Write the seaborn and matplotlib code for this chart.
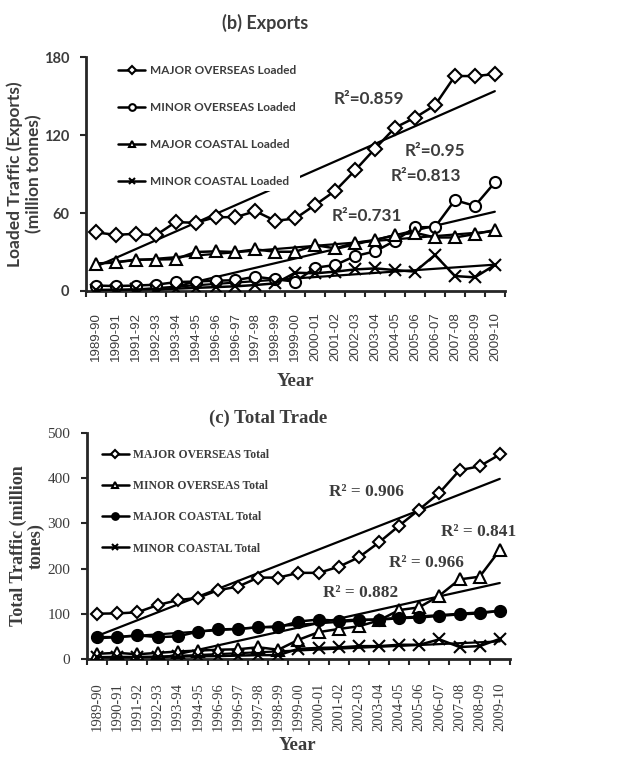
#Recreating (b) Exports and (c) Total Trade port traffic charts with linear trendlines

import numpy as np
import matplotlib.pyplot as plt
import seaborn as sns

years = ['1989-90', '1990-91', '1991-92', '1992-93', '1993-94', '1994-95', '1996-96',
         '1996-97', '1997-98', '1998-99', '1999-00', '2000-01', '2001-02', '2002-03',
         '2003-04', '2004-05', '2005-06', '2006-07', '2007-08', '2008-09', '2009-10']

#(b) Exports, million tonnes loaded
major_overseas_loaded = [45.1, 43.2, 44.0, 42.8, 53.0, 52.5, 56.8, 56.8, 61.4, 54.0, 55.8,
                         66.3, 77.1, 92.9, 109.6, 125.7, 133.4, 142.9, 165.4, 165.4, 166.9]
minor_overseas_loaded = [4.2, 3.8, 4.2, 4.8, 6.8, 7.3, 7.9, 8.3, 11.0, 9.0, 7.2,
                         17.9, 20.0, 26.9, 30.5, 38.7, 49.0, 49.2, 69.9, 65.5, 83.5]
major_coastal_loaded = [21.0, 22.0, 24.2, 24.2, 24.5, 30.0, 30.5, 30.0, 32.0, 30.2, 30.2,
                        35.3, 32.8, 37.1, 39.2, 43.0, 44.8, 41.2, 41.2, 43.8, 46.9]
minor_coastal_loaded = [0.8, 1.0, 1.2, 1.4, 1.8, 2.4, 3.0, 3.6, 4.6, 5.9, 14.1,
                        13.6, 14.9, 16.6, 17.4, 16.1, 14.9, 27.7, 11.5, 10.5, 20.0]

#(c) Total Trade, million tonnes
major_overseas_total = [100, 100.5, 103, 119, 130, 135, 152, 160, 180, 180, 190.5,
                        190.5, 204, 225, 258, 295, 331, 368, 418, 427, 453]
minor_overseas_total = [11, 13, 10, 13, 16, 18, 20, 21, 25.5, 20, 42,
                        59, 66, 72, 85, 108, 114, 140, 176, 182, 241]
major_coastal_total = [48, 48, 52, 48, 49.5, 60, 65, 66, 70, 70, 82.5,
                       87, 84, 87, 86.5, 90, 91.5, 95, 98.5, 100.5, 106.5]
minor_coastal_total = [3.5, 4, 4, 4.5, 5, 5.5, 6, 7, 8, 8, 22,
                       24, 25, 28, 28, 31, 31, 43, 26, 28, 44]

r2_exports = ['R²=0.859', 'R²=0.95', 'R²=0.813', 'R²=0.731']
r2_total = ['R² = 0.906', 'R² = 0.841', 'R² = 0.966', 'R² = 0.882']

sns.set_style("ticks")
SANS = 'Lato'
SERIF = 'Liberation Serif'
TXT = '#3c3c3c'

idx = np.arange(len(years))
fig = plt.figure(figsize=(6.31, 7.57), dpi=100)
ax1 = fig.add_axes([0.136, 0.6156, 0.664, 0.309])
ax2 = fig.add_axes([0.138, 0.1298, 0.670, 0.2978])


def series(ax, y, marker, face, ms, label):
    sns.lineplot(x=idx, y=y, ax=ax, color='black', lw=1.8, marker=marker, markersize=ms,
                 markerfacecolor=face, markeredgecolor='black', markeredgewidth=1.5,
                 label=label, zorder=3)
    #linear trendline, same as excel
    sns.regplot(x=idx, y=y, ax=ax, scatter=False, ci=None, truncate=True,
                line_kws=dict(color='black', lw=1.6, zorder=2))


series(ax1, major_overseas_loaded, 'D', 'white', 7, 'MAJOR OVERSEAS Loaded')
series(ax1, minor_overseas_loaded, 'o', 'white', 8, 'MINOR OVERSEAS Loaded')
series(ax1, major_coastal_loaded, '^', 'white', 8, 'MAJOR COASTAL Loaded')
series(ax1, minor_coastal_loaded, 'x', 'black', 8, 'MINOR COASTAL Loaded')

series(ax2, major_overseas_total, 'D', 'white', 6.5, 'MAJOR OVERSEAS Total')
series(ax2, minor_overseas_total, '^', 'white', 8, 'MINOR OVERSEAS Total')
series(ax2, major_coastal_total, 'o', 'black', 8, 'MAJOR COASTAL Total')
series(ax2, minor_coastal_total, 'x', 'black', 8, 'MINOR COASTAL Total')

#r-squared labels
for (x, y), t in zip([(11.9, 147.5), (15.5, 107.8), (14.8, 88.3), (11.8, 57.6)], r2_exports):
    ax1.text(x, y, t, ha='left', va='center', fontsize=12.3, weight='bold', family=SANS, color=TXT)
for (x, y), t in zip([(11.5, 370), (17.1, 282), (14.5, 213), (11.2, 145)], r2_total):
    ax2.text(x, y, t, ha='left', va='center', fontsize=12.4, weight='bold', family=SERIF, color=TXT)

for ax, top, ticks, fam, wt, fs in [(ax1, 180, [0, 60, 120, 180], SANS, 'bold', 10.5),
                                    (ax2, 500, [0, 100, 200, 300, 400, 500], SERIF, 'normal', 11)]:
    ax.set_xlim(-0.5, 20.5)
    ax.set_ylim(0, top)
    ax.set_yticks(ticks)
    ax.set_yticklabels([str(t) for t in ticks], family=fam, weight=wt, fontsize=fs, color=TXT)
    ax.set_xticks(idx)
    ax.set_xticks(np.arange(-0.5, 21, 1), minor=True)
    ax.tick_params(axis='x', which='minor', length=4, width=1.5)
    ax.tick_params(axis='y', length=4, width=1.5, pad=8)
    for s in ['left', 'bottom']:
        ax.spines[s].set_linewidth(2)
    sns.despine(ax=ax)

ax1.tick_params(axis='x', which='major', length=0, pad=15)
ax2.tick_params(axis='x', which='major', length=0, pad=17)
ax1.set_xticklabels(years, rotation=90, family='Liberation Sans', fontsize=9.5, color=TXT)
ax2.set_xticklabels(years, rotation=90, family=SERIF, fontsize=10.5, color=TXT)

ax1.set_xlabel('')
ax2.set_xlabel('')
ax1.set_ylabel('Loaded Traffic (Exports)\n(million tonnes)', family=SANS, weight='bold',
               fontsize=12.5, color=TXT, labelpad=1, linespacing=1.25)
ax2.set_ylabel('Total Traffic (million\ntones)', family=SERIF, weight='bold',
               fontsize=13, color=TXT, labelpad=2, linespacing=1.05)

fig.text(0.42, 0.970, '(b) Exports', ha='center', va='center', family=SANS, weight='bold',
         fontsize=13, color=TXT)
fig.text(0.468, 0.496, 'Year', ha='center', va='center', family=SERIF, weight='bold',
         fontsize=13.5, color=TXT)
fig.text(0.425, 0.448, '(c) Total Trade', ha='center', va='center', family=SERIF, weight='bold',
         fontsize=13.5, color=TXT)
fig.text(0.472, 0.004, 'Year', ha='center', va='bottom', family=SERIF, weight='bold',
         fontsize=13.5, color=TXT)

h, l = ax1.get_legend_handles_labels()
ax1.legend(h, l, loc='upper left', bbox_to_anchor=(0.055, 1.005), markerscale=0.6,
           prop=dict(family=SANS, weight='bold', size=8.5), labelcolor=TXT, labelspacing=2.2,
           handlelength=2.3, handletextpad=0.4, frameon=True, facecolor='white',
           edgecolor='none', framealpha=1, fancybox=False, borderpad=0.3)
h, l = ax2.get_legend_handles_labels()
ax2.legend(h, l, loc='upper left', bbox_to_anchor=(0.01, 0.978), markerscale=0.6,
           prop=dict(family=SERIF, weight='bold', size=8.4), labelcolor=TXT, labelspacing=1.65,
           handlelength=2.3, handletextpad=0.4, frameon=False)

plt.savefig('out.png', dpi=100)
